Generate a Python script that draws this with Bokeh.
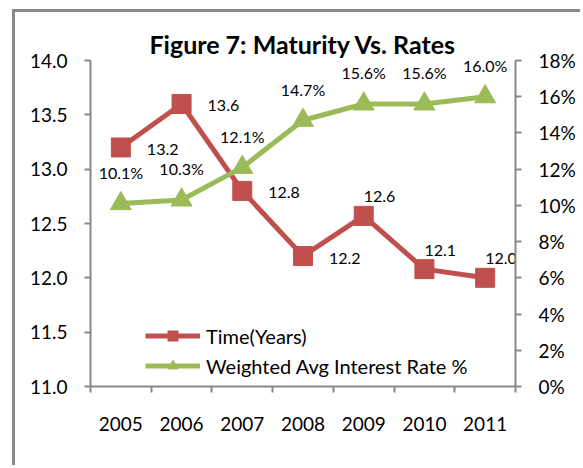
from bokeh.plotting import figure
from bokeh.models import (Range1d, LinearAxis, FixedTicker, NumeralTickFormatter,
                          ColumnDataSource, Legend, LegendItem)
from bokeh.core.properties import value
from bokeh.embed import file_html
from bokeh.resources import INLINE

# ---- data ----
years = ["2005", "2006", "2007", "2008", "2009", "2010", "2011"]
time_years = [13.2, 13.6, 12.8, 12.2, 12.57, 12.08, 12.0]
rate = [0.101, 0.103, 0.121, 0.147, 0.156, 0.156, 0.160]
left_ticks = [11.0, 11.5, 12.0, 12.5, 13.0, 13.5, 14.0]
right_ticks = [0.0, 0.02, 0.04, 0.06, 0.08, 0.10, 0.12, 0.14, 0.16, 0.18]

# label placement (pixels): right of point for first four, above-right for the rest
time_label_dx = [26, 26, 26, 26, 0, 0, 0]
time_label_dy = [2, 2, 2, 2, -19, -19, -19]

FONT = "Lato"
GRAY = "#888888"
RED = "#C0504D"
GREEN = "#9BBB59"

xs = [i + 0.5 for i in range(len(years))]

src_t = ColumnDataSource(dict(x=xs, y=time_years,
                              lab=[f"{v:.1f}" for v in time_years],
                              dx=time_label_dx, dy=time_label_dy))
src_r = ColumnDataSource(dict(x=xs, y=rate,
                              lab=[f"{v*100:.1f}%" for v in rate]))

p = figure(width=568, height=456, output_backend="svg", toolbar_location=None,
           x_range=Range1d(0, len(years)), y_range=Range1d(11.0, 14.0),
           min_border_left=75, min_border_right=68, min_border_top=48,
           min_border_bottom=82, x_axis_type=None, y_axis_type=None)
# chart-area border: left and top edges (right/bottom lie beyond the window)
p.styles = {"border-left": f"3px solid {GRAY}", "border-top": f"3px solid {GRAY}",
            "margin-left": "12px", "margin-top": "9px"}
p.outline_line_color = None
p.xgrid.visible = False
p.ygrid.visible = False
p.extra_y_ranges = {"rate": Range1d(0.0, 0.18)}

# title
p.title.text = "Figure 7: Maturity Vs. Rates"
p.title.align = "center"
p.title.text_font = FONT
p.title.text_font_size = "25px"
p.title.text_font_style = "bold"
p.title.standoff = 4
p.title.text_color = "black"


def style_axis(ax):
    ax.axis_line_color = GRAY
    ax.axis_line_width = 2
    ax.major_tick_line_color = GRAY
    ax.major_tick_line_width = 2
    ax.minor_tick_line_color = GRAY
    ax.minor_tick_line_width = 2
    ax.major_label_text_font = FONT
    ax.major_label_text_font_size = "19px"
    ax.major_label_text_color = "black"


# x axis
xax = LinearAxis(ticker=FixedTicker(ticks=xs, minor_ticks=list(range(len(years) + 1))))
xax.major_label_overrides = {x: y for x, y in zip(xs, years)}
style_axis(xax)
xax.major_tick_out = 0
xax.major_tick_in = 0
xax.minor_tick_out = 6
xax.minor_tick_in = 0
xax.major_label_standoff = 24
p.add_layout(xax, "below")

# left axis
lax = LinearAxis(ticker=FixedTicker(ticks=left_ticks, minor_ticks=[]),
                 formatter=NumeralTickFormatter(format="0.0"))
style_axis(lax)
lax.major_tick_out = 6
lax.major_tick_in = 0
lax.major_label_standoff = 17
p.add_layout(lax, "left")

# right axis
rax = LinearAxis(y_range_name="rate", ticker=FixedTicker(ticks=right_ticks, minor_ticks=[]),
                 formatter=NumeralTickFormatter(format="0%"))
style_axis(rax)
rax.major_tick_out = 6
rax.major_tick_in = 0
rax.major_label_standoff = 17
p.add_layout(rax, "right")

# series
l1 = p.line("x", "y", source=src_t, line_color=RED, line_width=5)
m1 = p.scatter("x", "y", source=src_t, marker="square", size=19,
               fill_color=RED, line_color=RED)
l2 = p.line("x", "y", source=src_r, y_range_name="rate", line_color=GREEN, line_width=5)
m2 = p.scatter("x", "y", source=src_r, y_range_name="rate", marker="triangle", size=21,
               fill_color=GREEN, line_color=GREEN)

# data labels
p.text("x", "y", text="lab", source=src_t, x_offset="dx", y_offset="dy",
       text_font=value(FONT), text_font_size="16px", text_color="black",
       text_align="left", text_baseline="middle")
p.text("x", "y", text="lab", source=src_r, y_range_name="rate", y_offset=-31,
       text_font=value(FONT), text_font_size="16px", text_color="black",
       text_align="center", text_baseline="middle")

legend = Legend(items=[LegendItem(label="Time(Years)", renderers=[l1, m1]),
                       LegendItem(label="Weighted Avg Interest Rate %", renderers=[l2, m2])],
                location=(55, 8), padding=0, margin=0, spacing=5,
                glyph_width=55, glyph_height=25, label_height=25, label_standoff=6,
                border_line_color=None, background_fill_alpha=0,
                label_text_font=FONT, label_text_font_size="20px",
                label_text_color="black")
p.add_layout(legend, "center")

open("out.html", "w").write(file_html(p, INLINE))
